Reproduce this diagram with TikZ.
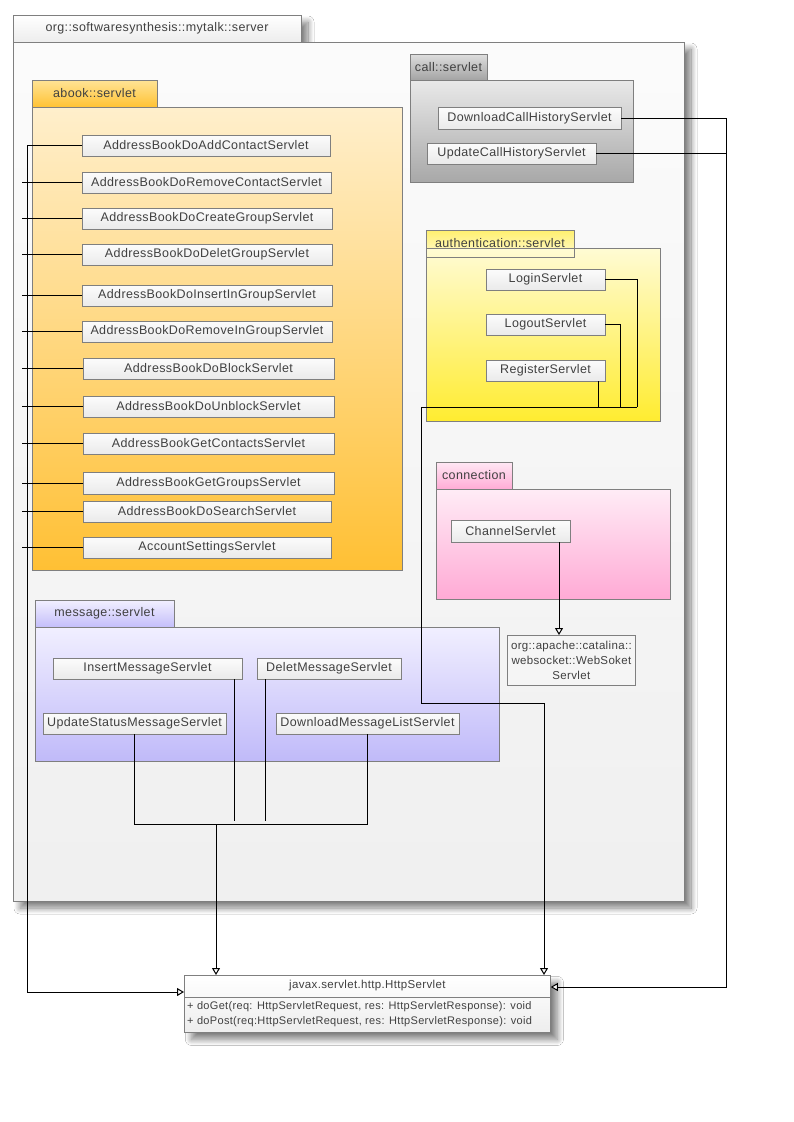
\documentclass[tikz,border=0pt]{standalone}
\usepackage{fontspec}
\setmainfont[LetterSpace=3]{Liberation Sans}
\usetikzlibrary{arrows.meta,shadows.blur,calc}
\definecolor{bordc}{HTML}{7F7F7F}
\definecolor{txtc}{HTML}{404040}
\definecolor{clstop}{HTML}{FCFCFC}
\definecolor{clsbot}{HTML}{EAEAEA}
\begin{document}
\begin{tikzpicture}[x=1pt,y=-1pt,
  pkg/.style={draw=bordc, line width=0.8pt, anchor=north west, inner sep=0pt, outer sep=0pt, text=txtc, font=\fontsize{12.5}{14}\selectfont},
  pkgbox/.style n args={2}{pkg, minimum width=#1, minimum height=#2},
  clsbox/.style n args={2}{draw=bordc, line width=0.8pt, top color=clstop, bottom color=clsbot, anchor=north west, inner sep=0pt, outer sep=0pt, text=txtc, font=\fontsize{12.5}{14}\selectfont, minimum width=#1, minimum height=#2},
  conn/.style={draw=black, line width=1pt},
  gen/.style={conn, -{Triangle[open, length=7pt, width=8pt, fill=white]}},
  shad/.style={blur shadow={shadow xshift=7pt, shadow yshift=-7pt, shadow blur radius=6pt, shadow blur steps=14, shadow opacity=50}}
]
\useasboundingbox (0,0) rectangle (793,1122);
\fill[white] (0,0) rectangle (793,1122);

% outer package
\node[pkgbox={288}{27}, top color=white, bottom color=black!7, shad] (outt) at (13,15) {org::softwaresynthesis::mytalk::server};
\node[pkgbox={671}{859}, top color=black!1.5, bottom color=black!6, shad] (outb) at (13,42) {};

% abook::servlet
\node[pkgbox={125}{27}, top color={rgb,255:red,255;green,228;blue,150}, bottom color={rgb,255:red,255;green,194;blue,52}] (abt) at (32,80) {abook::servlet};
\node[pkgbox={370}{463}, top color={rgb,255:red,255;green,239;blue,204}, bottom color={rgb,255:red,255;green,192;blue,52}] (abb) at (32,107) {};

% call::servlet
\node[pkgbox={77}{26}, top color={rgb,255:red,222;green,222;blue,222}, bottom color={rgb,255:red,164;green,164;blue,164}] (cat) at (410,54) {call::servlet};
\node[pkgbox={223}{102}, top color={rgb,255:red,233;green,233;blue,233}, bottom color={rgb,255:red,168;green,168;blue,168}] (cab) at (410,80) {};

% authentication::servlet
\node[pkgbox={148}{27}, top color={rgb,255:red,255;green,240;blue,110}, bottom color={rgb,255:red,255;green,250;blue,210}] (aut) at (426,230) {};
\node[pkgbox={234}{173}, top color={rgb,255:red,255;green,251;blue,212}, bottom color={rgb,255:red,255;green,236;blue,48}] (aub) at (426,248) {};
\node[pkgbox={148}{27}, fill=none] (autl) at (426,230) {\raisebox{-2pt}{authentication::servlet}};

% connection
\node[pkgbox={76}{27}, top color={rgb,255:red,255;green,232;blue,244}, bottom color={rgb,255:red,255;green,172;blue,214}] (cot) at (436,462) {connection};
\node[pkgbox={234}{110}, top color={rgb,255:red,255;green,236;blue,246}, bottom color={rgb,255:red,255;green,170;blue,213}] (cob) at (436,489) {};

% message::servlet
\node[pkgbox={139}{27}, top color={rgb,255:red,242;green,240;blue,255}, bottom color={rgb,255:red,196;green,190;blue,250}] (met) at (35,600) {message::servlet};
\node[pkgbox={464}{134}, top color={rgb,255:red,241;green,239;blue,255}, bottom color={rgb,255:red,192;green,186;blue,249}] (meb) at (35,627) {};

% abook classes
\node[clsbox={248}{21}] (ab1) at (82,135) {AddressBookDoAddContactServlet};
\node[clsbox={249}{21}] (ab2) at (82,172) {AddressBookDoRemoveContactServlet};
\node[clsbox={250}{21}] (ab3) at (82,208) {AddressBookDoCreateGroupServlet};
\node[clsbox={250}{21}] (ab4) at (82,244) {AddressBookDoDeletGroupServlet};
\node[clsbox={250}{21}] (ab5) at (82,285) {AddressBookDoInsertInGroupServlet};
\node[clsbox={250}{21}] (ab6) at (82,321) {AddressBookDoRemoveInGroupServlet};
\node[clsbox={251}{21}] (ab7) at (83,358) {AddressBookDoBlockServlet};
\node[clsbox={251}{21}] (ab8) at (83,396) {AddressBookDoUnblockServlet};
\node[clsbox={251}{21}] (ab9) at (83,433) {AddressBookGetContactsServlet};
\node[clsbox={251}{22}] (ab10) at (83,472) {AddressBookGetGroupsServlet};
\node[clsbox={248}{21}] (ab11) at (83,501) {AddressBookDoSearchServlet};
\node[clsbox={248}{21}] (ab12) at (83,537) {AccountSettingsServlet};

% call classes
\node[clsbox={183}{22}] (dch) at (438,107) {DownloadCallHistoryServlet};
\node[clsbox={169}{21}] (uch) at (427,143) {UpdateCallHistoryServlet};

% authentication classes
\node[clsbox={119}{21}] (login) at (486,269) {LoginServlet};
\node[clsbox={119}{21}] (logout) at (486,314) {LogoutServlet};
\node[clsbox={119}{21}] (reg) at (486,360) {RegisterServlet};

% connection classes
\node[clsbox={119}{22}] (chan) at (451,520) {ChannelServlet};
\node[draw=bordc, line width=0.8pt, fill=black!4, anchor=north west, inner sep=0pt, minimum width=128, minimum height=50, text=txtc, align=center, font=\fontsize{11.5}{15}\selectfont] (wss) at (507,635) {org::apache::catalina::\\websocket::WebSoket\\Servlet};

% message classes
\node[clsbox={189}{21}] (ins) at (53,658) {InsertMessageServlet};
\node[clsbox={144}{21}] (del) at (257,658) {DeletMessageServlet};
\node[clsbox={183}{21}] (upd) at (43,713) {UpdateStatusMessageServlet};
\node[clsbox={183}{21}] (dml) at (276,713) {DownloadMessageListServlet};

% HttpServlet
\node[draw=bordc, line width=0.8pt, top color=white, bottom color=black!7, anchor=north west, inner sep=0pt, minimum width=366, minimum height=57, shad] (http) at (184,975) {};
\draw[bordc, line width=0.8pt] ($(http.north west)+(0,22)$) -- ($(http.north east)+(0,22)$);
\node[text=txtc, font=\fontsize{11.5}{13}\selectfont, inner sep=0pt] (httpn) at ($(http.north)+(0,11)$) {javax.servlet.http.HttpServlet};
\node[text=txtc, font=\fontsize{11}{13}\selectfont, inner sep=0pt, anchor=west] (m1) at ($(http.north west)+(3,32)$) {+ doGet(req: HttpServletRequest, res: HttpServletResponse): void};
\node[text=txtc, font=\fontsize{11}{13}\selectfont, inner sep=0pt, anchor=west] (m2) at ($(http.north west)+(3,47)$) {+ doPost(req:HttpServletRequest, res: HttpServletResponse): void};

% ---- connectors ----
\coordinate (lx) at (27,0);
\coordinate (sx) at (22,0);
\coordinate (lbot) at (27,992);
\draw[conn] (ab1.west) -- (ab1.west -| lx) -- (lbot);
\draw[gen] (lbot) -- (lbot -| http.west);
\foreach \n in {ab2,ab3,ab4,ab5,ab6,ab7,ab8,ab9,ab10,ab11,ab12}
  \draw[conn] (\n.west) -- (\n.west -| sx);

% call
\coordinate (rx) at (726,0);
\coordinate (rin) at ($(http.north east)+(0,12)$);
\draw[conn] (uch.east) -- (uch.east -| rx);
\draw[gen] (dch.east) -- (dch.east -| rx) -- (rx |- rin) -- (rin);

% authentication
\coordinate (aux) at (421,407);
\coordinate (amid) at (544,703);
\draw[conn] (login.east) -- (637,279.5) -- (637,407);
\draw[conn] (logout.east) -- (620,324.5) -- (620,407);
\draw[conn] (reg.south -| 598,0) -- (598,407);
\draw[conn] (637,407) -- (aux);
\draw[gen] (aux) -- (aux |- amid) -- (amid) -- (amid |- http.north);

% connection
\draw[gen] (chan.south -| 559,0) -- (wss.north -| 559,0);

% message
\coordinate (mj) at (216,824);
\draw[conn] (ins.south -| 234,0) -- (234,821);
\draw[conn] (del.south -| 265,0) -- (265,821);
\draw[conn] (upd.south -| 134,0) -- (134,824) -- (367,824) -- (dml.south -| 367,0);
\draw[gen] (mj) -- (mj |- http.north);
\end{tikzpicture}
\end{document}
